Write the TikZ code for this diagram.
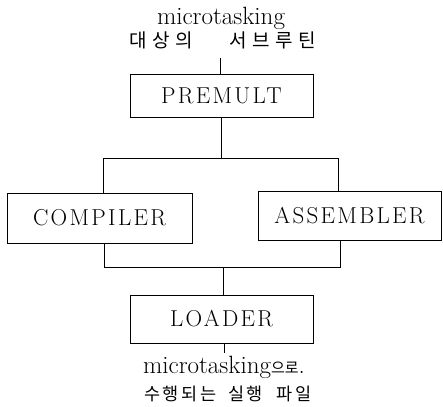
\documentclass[tikz,border=0pt]{standalone}
\usepackage{fontspec}
\newfontfamily\kr{Noto Sans CJK KR}
\newfontfamily\boxfont{Latin Modern Roman}[LetterSpace=10]
\newcommand{\ks}{\hspace{5.5pt}}
\newcommand{\kb}{\hspace{2.5pt}}
\begin{document}
\begin{tikzpicture}[x=1pt,y=-1pt,
  box/.style={draw,line width=0.9pt,rectangle,inner sep=0pt,font=\boxfont\fontsize{23}{23}\selectfont},
  ln/.style={line width=0.9pt},
  lat/.style={inner sep=0pt,font=\fontsize{25}{25}\selectfont},
  kor/.style={inner sep=0pt,font=\kr\fontsize{19}{19}\selectfont},
  korb/.style={inner sep=0pt,font=\kr\fontsize{17.5}{17.5}\selectfont}]
\useasboundingbox (0,0) rectangle (443,406);
\node[lat,anchor=base] (t1) at (221,25) {microtasking};
\node[kor] (t2a) at (161,40) {대\ks 상\ks 의};
\node[kor] (t2b) at (273,40) {서\ks 브\ks 루\ks 틴};
\node[box,minimum width=183pt,minimum height=43pt] (premult) at (221.5,96) {PREMULT};
\node[box,minimum width=185pt,minimum height=50pt] (compiler) at (99.5,218) {COMPILER};
\node[box,minimum width=183pt,minimum height=49pt] (assembler) at (349.5,215.5) {ASSEMBLER};
\node[box,minimum width=183pt,minimum height=48pt] (loader) at (221.5,319) {LOADER};
\node[lat,anchor=base] (b1) at (224,373) {microtasking{\kr\fontsize{15}{15}\selectfont 으로}.};
\node[korb] (b2) at (228,394) {수\kb 행\kb 되\kb 는\hspace{12pt}실\kb 행\hspace{14pt}파\kb 일};
\coordinate (top) at (220,58);
\coordinate (tl) at (103,158);
\coordinate (tr) at (338,158);
\coordinate (bl) at (104,267);
\coordinate (br) at (340,267);
\coordinate (bc) at (223,267);
\coordinate (end) at (224,353);
\draw[ln] (top) -- (premult.north -| top);
\draw[ln] (premult.south) -- (premult.south |- tl);
\draw[ln] (compiler.north -| tl) -- (tl) -- (tr) -- (assembler.north -| tr);
\draw[ln] (compiler.south -| bl) -- (bl) -- (br) -- (assembler.south -| br);
\draw[ln] (bc) -- (loader.north -| bc);
\draw[ln] (loader.south -| end) -- (end);
\end{tikzpicture}
\end{document}
